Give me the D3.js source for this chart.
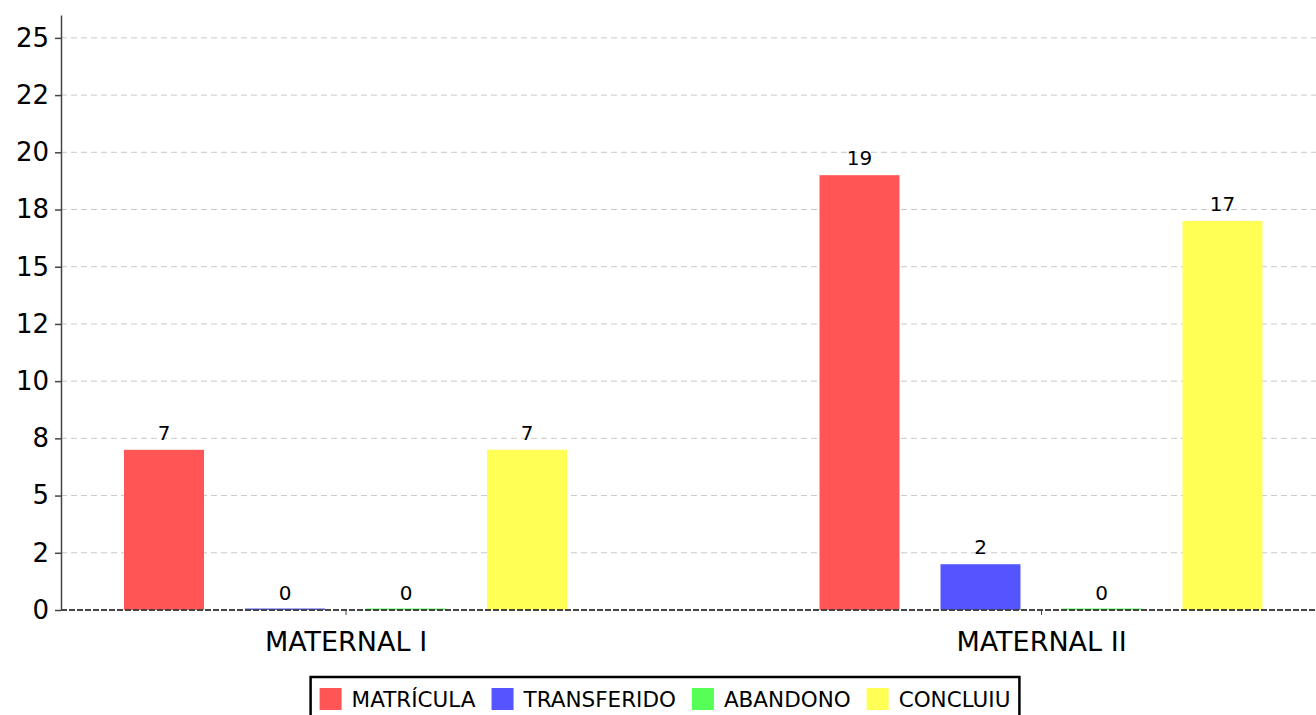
<!DOCTYPE html>
<html lang="pt">

<head>
  <meta charset="utf-8">
  <title>Matrículas por turma</title>
  <script src="https://cdnjs.cloudflare.com/ajax/libs/d3/7.8.5/d3.min.js"></script>
  <style type="text/css">
    body { margin: 0; background: #fff; }
    svg { font-family: "DejaVu Sans", sans-serif; }
    .grid line { stroke: #c8c8c8; stroke-dasharray: 6, 4; }
  </style>
</head>

<body>
  <script>
    var w = 1316;
    var h = 715;

    // data
    var categories = ['MATERNAL I', 'MATERNAL II'];
    var series = ['MATRÍCULA', 'TRANSFERIDO', 'ABANDONO', 'CONCLUIU'];
    var colors = ['#ff5555', '#5555ff', '#55ff55', '#ffff55'];
    var values = [
      [7, 0, 0, 7],
      [19, 2, 0, 17]
    ];
    var yTicks = [0, 2.5, 5, 7.5, 10, 12.5, 15, 17.5, 20, 22.5, 25];
    var yTickLabels = ['0', '2', '5', '8', '10', '12', '15', '18', '20', '22', '25'];

    var plotLeft = 61, plotRight = 1316, plotTop = 15, plotBottom = 610;

    var svg = d3.select('body')
      .append('svg')
      .attr('width', w)
      .attr('height', h);

    var yScale = d3.scaleLinear()
      .domain([0, 26])
      .range([plotBottom, plotTop]);

    var xScale = d3.scalePoint()
      .domain(categories)
      .range([345.5, 1041]);

    var inner = d3.scaleBand()
      .domain(series)
      .range([-242, 242])
      .paddingInner(0.339)
      .paddingOuter(0.1695);

    // gridlines
    svg.append('g')
      .attr('class', 'grid')
      .selectAll('line')
      .data(yTicks.slice(1))
      .join('line')
      .attr('x1', plotLeft)
      .attr('x2', plotRight)
      .attr('y1', d => yScale(d))
      .attr('y2', d => yScale(d));

    // bars
    var groups = svg.append('g')
      .selectAll('g')
      .data(categories)
      .join('g')
      .attr('transform', d => 'translate(' + xScale(d) + ',0)');

    groups.selectAll('rect')
      .data((d, i) => values[i].map((v, j) => ({ key: series[j], value: v, color: colors[j] })))
      .join('rect')
      .attr('x', d => inner(d.key))
      .attr('width', inner.bandwidth())
      .attr('y', d => d.value > 0 ? yScale(d.value) : plotBottom - 1.5)
      .attr('height', d => d.value > 0 ? plotBottom - yScale(d.value) : 1.5)
      .attr('fill', d => d.color);

    groups.selectAll('text')
      .data((d, i) => values[i].map((v, j) => ({ key: series[j], value: v })))
      .join('text')
      .attr('x', d => inner(d.key) + inner.bandwidth() / 2)
      .attr('y', d => yScale(d.value) - 10)
      .attr('text-anchor', 'middle')
      .attr('font-size', 20)
      .attr('fill', '#000')
      .text(d => d.value);

    // x axis (dashed baseline)
    svg.append('line')
      .attr('x1', plotLeft)
      .attr('x2', plotRight)
      .attr('y1', plotBottom)
      .attr('y2', plotBottom)
      .attr('stroke', '#444')
      .attr('stroke-width', 2)
      .attr('stroke-dasharray', '6,2');

    var xAxis = svg.append('g')
      .attr('transform', 'translate(0,' + plotBottom + ')')
      .call(d3.axisBottom(xScale).tickSize(5).tickPadding(17));
    xAxis.select('.domain').remove();
    xAxis.selectAll('line').attr('stroke', '#444');
    xAxis.selectAll('text')
      .attr('font-family', '"DejaVu Sans", sans-serif')
      .attr('font-size', 27)
      .attr('fill', '#000');

    // y axis
    var yAxis = svg.append('g')
      .attr('transform', 'translate(' + plotLeft + ',0)')
      .call(d3.axisLeft(yScale)
        .tickValues(yTicks)
        .tickFormat((d, i) => yTickLabels[i])
        .tickSize(6)
        .tickPadding(6)
        .tickSizeOuter(0));
    yAxis.select('.domain').attr('stroke', '#444').attr('stroke-width', 1.5);
    yAxis.selectAll('line').attr('stroke', '#444').attr('stroke-width', 1.5);
    yAxis.selectAll('text')
      .attr('font-family', '"DejaVu Sans", sans-serif')
      .attr('font-size', 26)
      .attr('fill', '#000');

    // legend
    var legend = svg.append('g');
    var box = legend.append('rect')
      .attr('fill', '#fff')
      .attr('stroke', '#000')
      .attr('stroke-width', 2.5);

    var cx = 9;
    series.forEach(function (s, i) {
      legend.append('rect')
        .attr('x', cx)
        .attr('y', 11)
        .attr('width', 22)
        .attr('height', 22)
        .attr('fill', colors[i]);
      var t = legend.append('text')
        .attr('x', cx + 32)
        .attr('y', 29.5)
        .attr('font-size', 21.5)
        .text(s);
      cx += 32 + t.node().getComputedTextLength() + 16;
    });
    var bw = cx - 16 + 9;
    box.attr('x', 0).attr('y', 0).attr('width', bw).attr('height', 50);
    legend.attr('transform', 'translate(' + (665 - bw / 2) + ',677)');
  </script>
</body>

</html>
